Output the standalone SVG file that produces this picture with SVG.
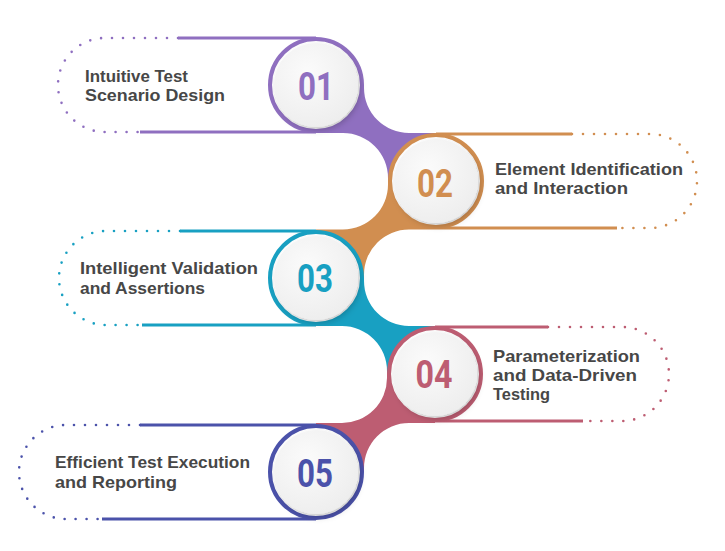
<svg xmlns="http://www.w3.org/2000/svg" width="725" height="551" viewBox="0 0 725 551">
<defs>
<filter id="sh" x="-30%" y="-30%" width="160%" height="160%">
<feDropShadow dx="2" dy="3" stdDeviation="3" flood-color="#000" flood-opacity="0.22"/>
</filter>
<radialGradient id="disk" cx="40%" cy="35%" r="70%">
<stop offset="0" stop-color="#fbfbfb"/>
<stop offset="1" stop-color="#ededed"/>
</radialGradient>
</defs>
<style>
.lbl{font-family:"Liberation Sans",Arial,sans-serif;font-weight:bold;font-size:17px;fill:#474747}
.num{font-family:"Roboto","Liberation Sans",sans-serif;font-weight:bold;font-size:39px;text-anchor:middle}
.solid{fill:none;stroke-width:3}
.dot{fill:none;stroke-width:2.6;stroke-linecap:round;stroke-dasharray:0 11}
.ring{fill:#fff;stroke-width:4}
.inner{fill:url(#disk);filter:url(#sh)}
</style>
<rect width="725" height="551" fill="#fff"/>

<g id="connectors">
<path fill="#8f6fc0" d="M316,85 L364,85 L364,88 A45,45 0 0 0 409,133 L436,133 L436,181 L388,181 L388,178 A45,45 0 0 0 343,133 L316,133 Z"/>
<path fill="#d18e50" d="M436,181 L388,181 L388,184.5 A45,45 0 0 1 343,229.5 L316,229.5 L316,278 L364,278 L364,274.5 A45,45 0 0 1 409,229.5 L436,229.5 Z"/>
<path fill="#18a0c2" d="M316,278 L364,278 L364,281 A45,45 0 0 0 409,326 L435,326 L435,374 L387,374 L387,371 A45,45 0 0 0 342,326 L316,326 Z"/>
<path fill="#bd5d72" d="M435,374 L387,374 L387,378 A45,45 0 0 1 342,423 L316,423 L316,472 L364,472 L364,468 A45,45 0 0 1 409,423 L435,423 Z"/>
</g>

<g id="node1">
<path class="dot" stroke="#8f6fc0" d="M178,38 L105,38 A47,47 0 0 0 105,132 L140,132"/>
<path class="solid" stroke="#8f6fc0" d="M178,38 L316,38 M140,132 L316,132"/>
<circle class="ring" stroke="#8f6fc0" cx="316" cy="85" r="46"/>
<circle class="inner" cx="316" cy="85" r="42"/>
<text class="num" fill="#8f6fc0" x="316" y="100" textLength="36" lengthAdjust="spacingAndGlyphs">01</text>
<text class="lbl" x="85" y="82" textLength="103" lengthAdjust="spacingAndGlyphs">Intuitive Test</text>
<text class="lbl" x="85" y="101" textLength="140" lengthAdjust="spacingAndGlyphs">Scenario Design</text>
</g>

<g id="node2">
<path class="dot" stroke="#d18e50" d="M572,134 L650,134 A47,47 0 0 1 650,228 L617,228"/>
<path class="solid" stroke="#d18e50" d="M436,134 L572,134 M436,228 L617,228"/>
<circle class="ring" stroke="#d18e50" cx="436" cy="181" r="46"/>
<circle class="inner" cx="436" cy="181" r="42"/>
<text class="num" fill="#d18e50" x="435" y="197" textLength="36" lengthAdjust="spacingAndGlyphs">02</text>
<text class="lbl" x="495" y="175" textLength="188" lengthAdjust="spacingAndGlyphs">Element Identification</text>
<text class="lbl" x="495" y="194" textLength="133" lengthAdjust="spacingAndGlyphs">and Interaction</text>
</g>

<g id="node3">
<path class="dot" stroke="#18a0c2" d="M180,231 L106,231 A47,47 0 0 0 106,325 L142,325"/>
<path class="solid" stroke="#18a0c2" d="M180,231 L316,231 M142,325 L316,325"/>
<circle class="ring" stroke="#18a0c2" cx="316" cy="278" r="46"/>
<circle class="inner" cx="316" cy="278" r="42"/>
<text class="num" fill="#18a0c2" x="315" y="292" textLength="36" lengthAdjust="spacingAndGlyphs">03</text>
<text class="lbl" x="80" y="274" textLength="178" lengthAdjust="spacingAndGlyphs">Intelligent Validation</text>
<text class="lbl" x="80" y="294" textLength="125" lengthAdjust="spacingAndGlyphs">and Assertions</text>
</g>

<g id="node4">
<path class="dot" stroke="#bd5d72" d="M548,327 L622,327 A47,47 0 0 1 622,421 L583,421"/>
<path class="solid" stroke="#bd5d72" d="M435,327 L548,327 M435,421 L583,421"/>
<circle class="ring" stroke="#bd5d72" cx="435" cy="374" r="46"/>
<circle class="inner" cx="435" cy="374" r="42"/>
<text class="num" fill="#bd5d72" x="434" y="388" textLength="37" lengthAdjust="spacingAndGlyphs">04</text>
<text class="lbl" x="493" y="362" textLength="147" lengthAdjust="spacingAndGlyphs">Parameterization</text>
<text class="lbl" x="493" y="381" textLength="144" lengthAdjust="spacingAndGlyphs">and Data-Driven</text>
<text class="lbl" x="493" y="400" textLength="57" lengthAdjust="spacingAndGlyphs">Testing</text>
</g>

<g id="node5">
<path class="dot" stroke="#4b52aa" d="M140,425 L66,425 A47,47 0 0 0 66,519 L102,519"/>
<path class="solid" stroke="#4b52aa" d="M140,425 L316,425 M102,519 L316,519"/>
<circle class="ring" stroke="#4b52aa" cx="316" cy="472" r="46"/>
<circle class="inner" cx="316" cy="472" r="42"/>
<text class="num" fill="#4b52aa" x="315" y="487" textLength="36" lengthAdjust="spacingAndGlyphs">05</text>
<text class="lbl" x="55" y="468" textLength="195" lengthAdjust="spacingAndGlyphs">Efficient Test Execution</text>
<text class="lbl" x="55" y="488" textLength="122" lengthAdjust="spacingAndGlyphs">and Reporting</text>
</g>
</svg>
